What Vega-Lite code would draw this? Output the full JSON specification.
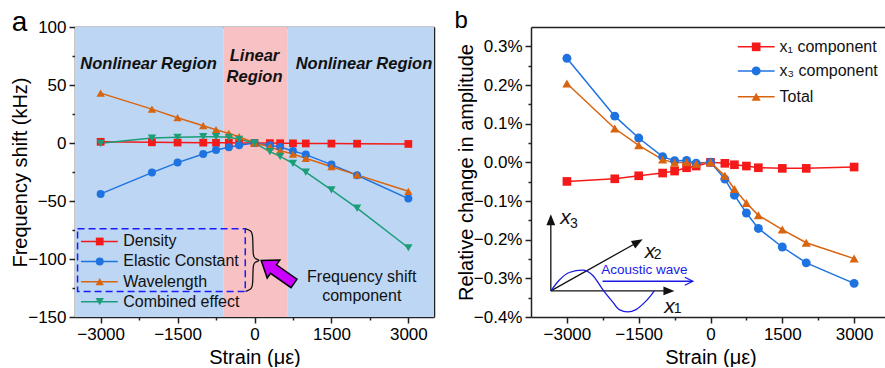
{
  "$schema": "https://vega.github.io/schema/vega-lite/v6.json",
  "padding": {"left": 10, "top": 8, "right": 0, "bottom": 0},
  "spacing": 20,
  "resolve": {
    "scale": {"color": "independent"},
    "legend": {"color": "independent"}
  },
  "config": {
    "font": "Liberation Sans",
    "view": {"stroke": null},
    "axis": {"labelFontSize": 17, "titleFontSize": 20, "titleFontWeight": "normal", "labelColor": "#000", "titleColor": "#000", "domainColor": "#222", "domainWidth": 1.5, "tickColor": "#222", "tickWidth": 1.5, "grid": false, "zindex": 1}
  },
  "datasets": {
    "a": [
      {"strain": -3000, "series": "Density", "value": 1},
      {"strain": -2000, "series": "Density", "value": 0.6},
      {"strain": -1500, "series": "Density", "value": 0.4},
      {"strain": -1000, "series": "Density", "value": 0.3},
      {"strain": -750, "series": "Density", "value": 0.2},
      {"strain": -500, "series": "Density", "value": 0.2},
      {"strain": -300, "series": "Density", "value": 0.1},
      {"strain": 0, "series": "Density", "value": 0},
      {"strain": 300, "series": "Density", "value": -0.1},
      {"strain": 500, "series": "Density", "value": -0.2},
      {"strain": 750, "series": "Density", "value": -0.3},
      {"strain": 1000, "series": "Density", "value": -0.4},
      {"strain": 1500, "series": "Density", "value": -0.5},
      {"strain": 2000, "series": "Density", "value": -0.6},
      {"strain": 3000, "series": "Density", "value": -0.8},
      {"strain": -3000, "series": "Elastic Constant", "value": -43.9},
      {"strain": -2000, "series": "Elastic Constant", "value": -25.5},
      {"strain": -1500, "series": "Elastic Constant", "value": -16.9},
      {"strain": -1000, "series": "Elastic Constant", "value": -9.5},
      {"strain": -750, "series": "Elastic Constant", "value": -6},
      {"strain": -500, "series": "Elastic Constant", "value": -3.7},
      {"strain": -300, "series": "Elastic Constant", "value": -2},
      {"strain": 0, "series": "Elastic Constant", "value": 0},
      {"strain": 300, "series": "Elastic Constant", "value": -2},
      {"strain": 500, "series": "Elastic Constant", "value": -3.4},
      {"strain": 750, "series": "Elastic Constant", "value": -6.9},
      {"strain": 1000, "series": "Elastic Constant", "value": -10},
      {"strain": 1500, "series": "Elastic Constant", "value": -18.6},
      {"strain": 2000, "series": "Elastic Constant", "value": -27.8},
      {"strain": 3000, "series": "Elastic Constant", "value": -47.9},
      {"strain": -3000, "series": "Wavelength", "value": 43},
      {"strain": -2000, "series": "Wavelength", "value": 29.2},
      {"strain": -1500, "series": "Wavelength", "value": 21.8},
      {"strain": -1000, "series": "Wavelength", "value": 14.9},
      {"strain": -750, "series": "Wavelength", "value": 11.5},
      {"strain": -500, "series": "Wavelength", "value": 8.3},
      {"strain": -300, "series": "Wavelength", "value": 5.4},
      {"strain": 0, "series": "Wavelength", "value": 0},
      {"strain": 300, "series": "Wavelength", "value": -3.2},
      {"strain": 500, "series": "Wavelength", "value": -6.6},
      {"strain": 750, "series": "Wavelength", "value": -9.5},
      {"strain": 1000, "series": "Wavelength", "value": -13.2},
      {"strain": 1500, "series": "Wavelength", "value": -20.4},
      {"strain": 2000, "series": "Wavelength", "value": -27.5},
      {"strain": 3000, "series": "Wavelength", "value": -41.6},
      {"strain": -3000, "series": "Combined effect", "value": -0.3},
      {"strain": -2000, "series": "Combined effect", "value": 4.3},
      {"strain": -1500, "series": "Combined effect", "value": 4.9},
      {"strain": -1000, "series": "Combined effect", "value": 5.4},
      {"strain": -750, "series": "Combined effect", "value": 5.4},
      {"strain": -500, "series": "Combined effect", "value": 4.9},
      {"strain": -300, "series": "Combined effect", "value": 3.2},
      {"strain": 0, "series": "Combined effect", "value": 0},
      {"strain": 300, "series": "Combined effect", "value": -7.5},
      {"strain": 500, "series": "Combined effect", "value": -11.5},
      {"strain": 750, "series": "Combined effect", "value": -17.5},
      {"strain": 1000, "series": "Combined effect", "value": -25.2},
      {"strain": 1500, "series": "Combined effect", "value": -40.4},
      {"strain": 2000, "series": "Combined effect", "value": -56.2},
      {"strain": 3000, "series": "Combined effect", "value": -90.3}
    ],
    "b": [
      {"strain": -3000, "series": "x₁ component", "value": -0.000494},
      {"strain": -2000, "series": "x₁ component", "value": -0.000426},
      {"strain": -1500, "series": "x₁ component", "value": -0.000348},
      {"strain": -1000, "series": "x₁ component", "value": -0.000277},
      {"strain": -750, "series": "x₁ component", "value": -0.000226},
      {"strain": -500, "series": "x₁ component", "value": -0.00014},
      {"strain": -300, "series": "x₁ component", "value": -0.000096},
      {"strain": 0, "series": "x₁ component", "value": 0},
      {"strain": 300, "series": "x₁ component", "value": -0.000026},
      {"strain": 500, "series": "x₁ component", "value": -0.000062},
      {"strain": 750, "series": "x₁ component", "value": -0.000096},
      {"strain": 1000, "series": "x₁ component", "value": -0.00014},
      {"strain": 1500, "series": "x₁ component", "value": -0.000156},
      {"strain": 2000, "series": "x₁ component", "value": -0.000156},
      {"strain": 3000, "series": "x₁ component", "value": -0.000122},
      {"strain": -3000, "series": "x₃ component", "value": 0.00269},
      {"strain": -2000, "series": "x₃ component", "value": 0.001195},
      {"strain": -1500, "series": "x₃ component", "value": 0.00063},
      {"strain": -1000, "series": "x₃ component", "value": 0.000146},
      {"strain": -750, "series": "x₃ component", "value": 0.00004},
      {"strain": -500, "series": "x₃ component", "value": 0.00005},
      {"strain": -300, "series": "x₃ component", "value": -0.00002},
      {"strain": 0, "series": "x₃ component", "value": 0},
      {"strain": 300, "series": "x₃ component", "value": -0.000434},
      {"strain": 500, "series": "x₃ component", "value": -0.00085},
      {"strain": 750, "series": "x₃ component", "value": -0.00131},
      {"strain": 1000, "series": "x₃ component", "value": -0.00171},
      {"strain": 1500, "series": "x₃ component", "value": -0.00219},
      {"strain": 2000, "series": "x₃ component", "value": -0.0026},
      {"strain": 3000, "series": "x₃ component", "value": -0.00313},
      {"strain": -3000, "series": "Total", "value": 0.00204},
      {"strain": -2000, "series": "Total", "value": 0.000874},
      {"strain": -1500, "series": "Total", "value": 0.00044},
      {"strain": -1000, "series": "Total", "value": 0.00007},
      {"strain": -750, "series": "Total", "value": -0.00001},
      {"strain": -500, "series": "Total", "value": 0},
      {"strain": -300, "series": "Total", "value": -0.00004},
      {"strain": 0, "series": "Total", "value": 0},
      {"strain": 300, "series": "Total", "value": -0.00035},
      {"strain": 500, "series": "Total", "value": -0.00069},
      {"strain": 750, "series": "Total", "value": -0.00105},
      {"strain": 1000, "series": "Total", "value": -0.00137},
      {"strain": 1500, "series": "Total", "value": -0.00174},
      {"strain": 2000, "series": "Total", "value": -0.00208},
      {"strain": 3000, "series": "Total", "value": -0.00249}
    ],
    "bg": [
      {"region": "nonlinear", "from": -3500, "to": -600},
      {"region": "linear", "from": -600, "to": 650},
      {"region": "nonlinear", "from": 650, "to": 3500}
    ],
    "regionLabels": [
      {"label": "Nonlinear Region", "x": -2064, "y": 68},
      {"label": "Linear", "x": 0, "y": 75},
      {"label": "Region", "x": 0, "y": 56.5},
      {"label": "Nonlinear Region", "x": 2134, "y": 68}
    ],
    "brace": [
      {"i": 0, "x": -176, "y": -74},
      {"i": 1, "x": -65, "y": -75.4},
      {"i": 2, "x": -31, "y": -79.1},
      {"i": 3, "x": -31, "y": -96.9},
      {"i": 4, "x": 0, "y": -99.8},
      {"i": 5, "x": 131, "y": -101.2},
      {"i": 6, "x": 0, "y": -102.6},
      {"i": 7, "x": -31, "y": -105.5},
      {"i": 8, "x": -31, "y": -122.8},
      {"i": 9, "x": -65, "y": -126.2},
      {"i": 10, "x": -176, "y": -127.9}
    ],
    "note": [
      {"t": "Frequency shift", "x": 2091, "y": -115.3},
      {"t": "component", "x": 2091, "y": -131.6}
    ],
    "sine": [
      {"x": -3336, "y": -0.003325},
      {"x": -3161, "y": -0.003049},
      {"x": -2951, "y": -0.002849},
      {"x": -2673, "y": -0.00279},
      {"x": -2463, "y": -0.002919},
      {"x": -2254, "y": -0.003283},
      {"x": -2045, "y": -0.00361},
      {"x": -1905, "y": -0.00381},
      {"x": -1731, "y": -0.00387},
      {"x": -1557, "y": -0.00381},
      {"x": -1381, "y": -0.003629},
      {"x": -1243, "y": -0.003439},
      {"x": -1172, "y": -0.003325}
    ],
    "insetAxes": [
      {"x": -3336, "y": -0.003325, "x2": -3336, "y2": -0.0016},
      {"x": -3336, "y": -0.003325, "x2": -900, "y2": -0.003325},
      {"x": -3336, "y": -0.003325, "x2": -1551, "y2": -0.002085}
    ],
    "insetX": [
      {"t": "x", "x": -3029, "y": -0.001447},
      {"t": "x", "x": -1264, "y": -0.002312},
      {"t": "x", "x": -858, "y": -0.00374}
    ],
    "insetSub": [
      {"t": "3", "x": -2853, "y": -0.001587},
      {"t": "2", "x": -1103, "y": -0.0024},
      {"t": "1", "x": -684, "y": -0.003785}
    ],
    "one": [{}]
  },
  "hconcat": [
    {
      "width": 359,
      "height": 290,
      "layer": [
        {
          "data": {"name": "bg"},
          "transform": [{"filter": "datum.region === 'nonlinear'"}],
          "mark": {"type": "rect", "color": "#bcd6f4"},
          "encoding": {
            "x": {"field": "from", "type": "quantitative", "scale": {"domain": [-3500, 3500], "nice": false, "zero": false}, "axis": null},
            "x2": {"field": "to"}
          }
        },
        {
          "data": {"name": "bg"},
          "transform": [{"filter": "datum.region === 'linear'"}],
          "mark": {"type": "rect", "color": "#f8c2c5"},
          "encoding": {
            "x": {"field": "from", "type": "quantitative", "axis": null},
            "x2": {"field": "to"}
          }
        },
        {
          "data": {"name": "a"},
          "mark": {"type": "line", "strokeWidth": 1.5},
          "encoding": {
            "x": {"field": "strain", "type": "quantitative", "axis": {"orient": "bottom", "values": [-3000, -1500, 0, 1500, 3000], "format": "d", "title": "Strain (με)", "tickSize": 6, "labelPadding": 3, "titlePadding": 5, "labelFlush": false}},
            "y": {"field": "value", "type": "quantitative", "scale": {"domain": [-150, 100], "nice": false, "zero": false}, "axis": {"orient": "left", "values": [-150, -100, -50, 0, 50, 100], "title": "Frequency shift (kHz)", "tickSize": 6, "labelPadding": 3, "titlePadding": -3}},
            "color": {"field": "series", "type": "nominal", "scale": {"domain": ["Density", "Elastic Constant", "Wavelength", "Combined effect"], "range": ["#f51a1a", "#1f73e0", "#d9640f", "#1b9e77"]}, "legend": null}
          }
        },
        {
          "data": {"name": "a"},
          "transform": [{"filter": "datum.series === 'Density'"}],
          "mark": {"type": "point", "shape": "square", "filled": true, "opacity": 1, "size": 60},
          "encoding": {
            "x": {"field": "strain", "type": "quantitative", "axis": {"orient": "bottom", "values": [-2250, -750, 750, 2250], "labels": false, "domain": false, "tickSize": 3, "title": null}},
            "y": {"field": "value", "type": "quantitative", "axis": {"orient": "left", "values": [-125, -75, -25, 25, 75], "labels": false, "domain": false, "tickSize": 3, "title": null}},
            "color": {"field": "series", "type": "nominal", "legend": null}
          }
        },
        {
          "data": {"name": "a"},
          "transform": [{"filter": "datum.series === 'Elastic Constant'"}],
          "mark": {"type": "point", "shape": "circle", "filled": true, "opacity": 1, "size": 64},
          "encoding": {
            "x": {"field": "strain", "type": "quantitative", "axis": {"orient": "top", "labels": false, "ticks": false, "title": null}},
            "y": {"field": "value", "type": "quantitative", "axis": {"orient": "right", "labels": false, "ticks": false, "title": null}},
            "color": {"field": "series", "type": "nominal", "legend": null}
          }
        },
        {
          "data": {"name": "a"},
          "transform": [{"filter": "datum.series === 'Wavelength'"}],
          "mark": {"type": "point", "shape": "triangle-up", "filled": true, "opacity": 1, "size": 70},
          "encoding": {
            "x": {"field": "strain", "type": "quantitative", "axis": null},
            "y": {"field": "value", "type": "quantitative", "axis": null},
            "color": {"field": "series", "type": "nominal", "legend": null}
          }
        },
        {
          "data": {"name": "a"},
          "transform": [{"filter": "datum.series === 'Combined effect'"}],
          "mark": {"type": "point", "shape": "triangle-down", "filled": true, "opacity": 1, "size": 70},
          "encoding": {
            "x": {"field": "strain", "type": "quantitative", "axis": null},
            "y": {"field": "value", "type": "quantitative", "axis": null},
            "color": {"field": "series", "type": "nominal", "legend": null}
          }
        },
        {"data": {"name": "one"}, "mark": {"type": "rule", "color": "#f51a1a", "strokeWidth": 1.5}, "encoding": {"x": {"datum": -3383, "type": "quantitative", "axis": null}, "x2": {"datum": -2666}, "y": {"datum": -84.9, "type": "quantitative", "axis": null}}},
        {"data": {"name": "one"}, "mark": {"type": "point", "shape": "square", "filled": true, "opacity": 1, "size": 60, "color": "#f51a1a"}, "encoding": {"x": {"datum": -3018, "type": "quantitative", "axis": null}, "y": {"datum": -84.9, "type": "quantitative", "axis": null}}},
        {"data": {"name": "one"}, "mark": {"type": "text", "text": "Density", "align": "left", "baseline": "middle", "fontSize": 16, "color": "#111"}, "encoding": {"x": {"datum": -2560, "type": "quantitative", "axis": null}, "y": {"datum": -84.9, "type": "quantitative", "axis": null}}},
        {"data": {"name": "one"}, "mark": {"type": "rule", "color": "#1f73e0", "strokeWidth": 1.5}, "encoding": {"x": {"datum": -3383, "type": "quantitative", "axis": null}, "x2": {"datum": -2666}, "y": {"datum": -102.1, "type": "quantitative", "axis": null}}},
        {"data": {"name": "one"}, "mark": {"type": "point", "shape": "circle", "filled": true, "opacity": 1, "size": 64, "color": "#1f73e0"}, "encoding": {"x": {"datum": -3018, "type": "quantitative", "axis": null}, "y": {"datum": -102.1, "type": "quantitative", "axis": null}}},
        {"data": {"name": "one"}, "mark": {"type": "text", "text": "Elastic Constant", "align": "left", "baseline": "middle", "fontSize": 16, "color": "#111"}, "encoding": {"x": {"datum": -2560, "type": "quantitative", "axis": null}, "y": {"datum": -102.1, "type": "quantitative", "axis": null}}},
        {"data": {"name": "one"}, "mark": {"type": "rule", "color": "#d9640f", "strokeWidth": 1.5}, "encoding": {"x": {"datum": -3383, "type": "quantitative", "axis": null}, "x2": {"datum": -2666}, "y": {"datum": -119.6, "type": "quantitative", "axis": null}}},
        {"data": {"name": "one"}, "mark": {"type": "point", "shape": "triangle-up", "filled": true, "opacity": 1, "size": 70, "color": "#d9640f"}, "encoding": {"x": {"datum": -3018, "type": "quantitative", "axis": null}, "y": {"datum": -119.6, "type": "quantitative", "axis": null}}},
        {"data": {"name": "one"}, "mark": {"type": "text", "text": "Wavelength", "align": "left", "baseline": "middle", "fontSize": 16, "color": "#111"}, "encoding": {"x": {"datum": -2560, "type": "quantitative", "axis": null}, "y": {"datum": -119.6, "type": "quantitative", "axis": null}}},
        {"data": {"name": "one"}, "mark": {"type": "rule", "color": "#1b9e77", "strokeWidth": 1.5}, "encoding": {"x": {"datum": -3383, "type": "quantitative", "axis": null}, "x2": {"datum": -2666}, "y": {"datum": -136.8, "type": "quantitative", "axis": null}}},
        {"data": {"name": "one"}, "mark": {"type": "point", "shape": "triangle-down", "filled": true, "opacity": 1, "size": 70, "color": "#1b9e77"}, "encoding": {"x": {"datum": -3018, "type": "quantitative", "axis": null}, "y": {"datum": -136.8, "type": "quantitative", "axis": null}}},
        {"data": {"name": "one"}, "mark": {"type": "text", "text": "Combined effect", "align": "left", "baseline": "middle", "fontSize": 16, "color": "#111"}, "encoding": {"x": {"datum": -2560, "type": "quantitative", "axis": null}, "y": {"datum": -136.8, "type": "quantitative", "axis": null}}},
        {
          "data": {"name": "regionLabels"},
          "mark": {"type": "text", "fontSize": 16.5, "fontWeight": "bold", "fontStyle": "italic", "color": "#111"},
          "encoding": {
            "x": {"field": "x", "type": "quantitative", "axis": null},
            "y": {"field": "y", "type": "quantitative", "axis": null},
            "text": {"field": "label"}
          }
        },
        {
          "data": {"name": "one"},
          "mark": {"type": "rect", "filled": false, "stroke": "#1a1aff", "strokeWidth": 1.5, "strokeDash": [7, 4]},
          "encoding": {
            "x": {"datum": -3450, "type": "quantitative", "axis": null},
            "x2": {"datum": -180},
            "y": {"datum": -74, "type": "quantitative", "axis": null},
            "y2": {"datum": -128}
          }
        },
        {
          "data": {"name": "brace"},
          "mark": {"type": "line", "color": "#111", "strokeWidth": 1.3, "interpolate": "basis"},
          "encoding": {
            "x": {"field": "x", "type": "quantitative", "axis": null},
            "y": {"field": "y", "type": "quantitative", "axis": null},
            "order": {"field": "i", "type": "quantitative"}
          }
        },
        {
          "data": {"name": "one"},
          "mark": {"type": "point", "shape": "M0,0L-0.75,-0.55L-0.75,-0.26L-2,-0.26L-2,0.26L-0.75,0.26L-0.75,0.55Z", "size": 1600, "angle": 215, "filled": true, "fill": "#cc00ff", "stroke": "#000", "strokeWidth": 1.5, "opacity": 1},
          "encoding": {
            "x": {"datum": 131, "type": "quantitative", "axis": null},
            "y": {"datum": -101.3, "type": "quantitative", "axis": null}
          }
        },
        {
          "data": {"name": "note"},
          "mark": {"type": "text", "fontSize": 16, "color": "#111"},
          "encoding": {
            "x": {"field": "x", "type": "quantitative", "axis": null},
            "y": {"field": "y", "type": "quantitative", "axis": null},
            "text": {"field": "t"}
          }
        },
        {
          "data": {"name": "one"},
          "mark": {"type": "text", "text": "a", "fontSize": 28, "baseline": "alphabetic", "color": "#000"},
          "encoding": {
            "x": {"datum": -4583, "type": "quantitative", "axis": null},
            "y": {"datum": 96.6, "type": "quantitative", "axis": null}
          }
        }
      ],
      "resolve": {"axis": {"x": "independent", "y": "independent"}}
    },
    {
      "width": 359,
      "height": 290,
      "layer": [
        {
          "data": {"name": "b"},
          "mark": {"type": "line", "strokeWidth": 1.5},
          "encoding": {
            "x": {"field": "strain", "type": "quantitative", "scale": {"domain": [-3750, 3750], "nice": false, "zero": false}, "axis": {"orient": "bottom", "values": [-3000, -1500, 0, 1500, 3000], "format": "d", "title": "Strain (με)", "tickSize": 6, "labelPadding": 3, "titlePadding": 5, "labelFlush": false}},
            "y": {"field": "value", "type": "quantitative", "scale": {"domain": [-0.004, 0.0035], "nice": false, "zero": false}, "axis": {"orient": "left", "values": [-0.004, -0.003, -0.002, -0.001, 0, 0.001, 0.002, 0.003], "format": ".1%", "title": "Relative change in amplitude", "tickSize": 6, "labelPadding": 3, "titlePadding": -3}},
            "color": {"field": "series", "type": "nominal", "scale": {"domain": ["x₁ component", "x₃ component", "Total"], "range": ["#f51a1a", "#1f73e0", "#d9640f"]}, "legend": null}
          }
        },
        {
          "data": {"name": "b"},
          "transform": [{"filter": "datum.series === 'x₁ component'"}],
          "mark": {"type": "point", "shape": "square", "filled": true, "opacity": 1, "size": 75},
          "encoding": {
            "x": {"field": "strain", "type": "quantitative", "axis": {"orient": "bottom", "values": [-2250, -750, 750, 2250], "labels": false, "domain": false, "tickSize": 3, "title": null}},
            "y": {"field": "value", "type": "quantitative", "axis": {"orient": "left", "values": [-0.0035, -0.0025, -0.0015, -0.0005, 0.0005, 0.0015, 0.0025], "labels": false, "domain": false, "tickSize": 3, "title": null}},
            "color": {"field": "series", "type": "nominal", "legend": null}
          }
        },
        {
          "data": {"name": "b"},
          "transform": [{"filter": "datum.series === 'x₃ component'"}],
          "mark": {"type": "point", "shape": "circle", "filled": true, "opacity": 1, "size": 80},
          "encoding": {
            "x": {"field": "strain", "type": "quantitative", "axis": {"orient": "top", "labels": false, "ticks": false, "title": null}},
            "y": {"field": "value", "type": "quantitative", "axis": {"orient": "right", "labels": false, "ticks": false, "title": null}},
            "color": {"field": "series", "type": "nominal", "legend": null}
          }
        },
        {
          "data": {"name": "b"},
          "transform": [{"filter": "datum.series === 'Total'"}],
          "mark": {"type": "point", "shape": "triangle-up", "filled": true, "opacity": 1, "size": 85},
          "encoding": {
            "x": {"field": "strain", "type": "quantitative", "axis": null},
            "y": {"field": "value", "type": "quantitative", "axis": null},
            "color": {"field": "series", "type": "nominal", "legend": null}
          }
        },
        {"data": {"name": "one"}, "mark": {"type": "rule", "color": "#f51a1a", "strokeWidth": 1.5}, "encoding": {"x": {"datum": 571, "type": "quantitative", "axis": null}, "x2": {"datum": 1340}, "y": {"datum": 0.002987, "type": "quantitative", "axis": null}}},
        {"data": {"name": "one"}, "mark": {"type": "point", "shape": "square", "filled": true, "opacity": 1, "size": 75, "color": "#f51a1a"}, "encoding": {"x": {"datum": 954, "type": "quantitative", "axis": null}, "y": {"datum": 0.002987, "type": "quantitative", "axis": null}}},
        {"data": {"name": "one"}, "mark": {"type": "text", "text": "x₁ component", "align": "left", "baseline": "middle", "fontSize": 16, "color": "#111"}, "encoding": {"x": {"datum": 1444, "type": "quantitative", "axis": null}, "y": {"datum": 0.002987, "type": "quantitative", "axis": null}}},
        {"data": {"name": "one"}, "mark": {"type": "rule", "color": "#1f73e0", "strokeWidth": 1.5}, "encoding": {"x": {"datum": 571, "type": "quantitative", "axis": null}, "x2": {"datum": 1340}, "y": {"datum": 0.002364, "type": "quantitative", "axis": null}}},
        {"data": {"name": "one"}, "mark": {"type": "point", "shape": "circle", "filled": true, "opacity": 1, "size": 80, "color": "#1f73e0"}, "encoding": {"x": {"datum": 954, "type": "quantitative", "axis": null}, "y": {"datum": 0.002364, "type": "quantitative", "axis": null}}},
        {"data": {"name": "one"}, "mark": {"type": "text", "text": "x₃ component", "align": "left", "baseline": "middle", "fontSize": 16, "color": "#111"}, "encoding": {"x": {"datum": 1444, "type": "quantitative", "axis": null}, "y": {"datum": 0.002364, "type": "quantitative", "axis": null}}},
        {"data": {"name": "one"}, "mark": {"type": "rule", "color": "#d9640f", "strokeWidth": 1.5}, "encoding": {"x": {"datum": 571, "type": "quantitative", "axis": null}, "x2": {"datum": 1340}, "y": {"datum": 0.001696, "type": "quantitative", "axis": null}}},
        {"data": {"name": "one"}, "mark": {"type": "point", "shape": "triangle-up", "filled": true, "opacity": 1, "size": 85, "color": "#d9640f"}, "encoding": {"x": {"datum": 954, "type": "quantitative", "axis": null}, "y": {"datum": 0.001696, "type": "quantitative", "axis": null}}},
        {"data": {"name": "one"}, "mark": {"type": "text", "text": "Total", "align": "left", "baseline": "middle", "fontSize": 16, "color": "#111"}, "encoding": {"x": {"datum": 1444, "type": "quantitative", "axis": null}, "y": {"datum": 0.001696, "type": "quantitative", "axis": null}}},
        {
          "data": {"name": "insetAxes"},
          "mark": {"type": "rule", "color": "#111", "strokeWidth": 1.3},
          "encoding": {
            "x": {"field": "x", "type": "quantitative", "axis": null},
            "y": {"field": "y", "type": "quantitative", "axis": null},
            "x2": {"field": "x2"},
            "y2": {"field": "y2"}
          }
        },
        {
          "data": {"name": "one"},
          "mark": {"type": "point", "shape": "M0,0L-2,-0.8L-2,0.8Z", "size": 121, "angle": -90, "filled": true, "color": "#111", "opacity": 1},
          "encoding": {
            "x": {"datum": -3336, "type": "quantitative", "axis": null},
            "y": {"datum": -0.001345, "type": "quantitative", "axis": null}
          }
        },
        {
          "data": {"name": "one"},
          "mark": {"type": "point", "shape": "M0,0L-2,-0.8L-2,0.8Z", "size": 121, "angle": 0, "filled": true, "color": "#111", "opacity": 1},
          "encoding": {
            "x": {"datum": -753, "type": "quantitative", "axis": null},
            "y": {"datum": -0.003325, "type": "quantitative", "axis": null}
          }
        },
        {
          "data": {"name": "one"},
          "mark": {"type": "point", "shape": "M0,0L-2,-0.8L-2,0.8Z", "size": 121, "angle": -29.2, "filled": true, "color": "#111", "opacity": 1},
          "encoding": {
            "x": {"datum": -1417, "type": "quantitative", "axis": null},
            "y": {"datum": -0.001992, "type": "quantitative", "axis": null}
          }
        },
        {
          "data": {"name": "sine"},
          "mark": {"type": "line", "color": "#1a1ae6", "strokeWidth": 1.3, "interpolate": "monotone"},
          "encoding": {
            "x": {"field": "x", "type": "quantitative", "axis": null},
            "y": {"field": "y", "type": "quantitative", "axis": null}
          }
        },
        {
          "data": {"name": "one"},
          "mark": {"type": "rule", "color": "#1a1ae6", "strokeWidth": 1.3},
          "encoding": {
            "x": {"datum": -2254, "type": "quantitative", "axis": null},
            "x2": {"datum": -380},
            "y": {"datum": -0.003075, "type": "quantitative", "axis": null}
          }
        },
        {
          "data": {"name": "one"},
          "mark": {"type": "point", "shape": "M-2,-1L0,0L-2,1", "size": 64, "filled": false, "color": "#1a1ae6", "strokeWidth": 1.3, "opacity": 1},
          "encoding": {
            "x": {"datum": -370, "type": "quantitative", "axis": null},
            "y": {"datum": -0.003075, "type": "quantitative", "axis": null}
          }
        },
        {
          "data": {"name": "one"},
          "mark": {"type": "text", "text": "Acoustic wave", "fontSize": 13.5, "color": "#1a1ae6"},
          "encoding": {
            "x": {"datum": -1381, "type": "quantitative", "axis": null},
            "y": {"datum": -0.00279, "type": "quantitative", "axis": null}
          }
        },
        {
          "data": {"name": "insetX"},
          "mark": {"type": "text", "fontSize": 21, "fontStyle": "italic", "color": "#111"},
          "encoding": {
            "x": {"field": "x", "type": "quantitative", "axis": null},
            "y": {"field": "y", "type": "quantitative", "axis": null},
            "text": {"field": "t"}
          }
        },
        {
          "data": {"name": "insetSub"},
          "mark": {"type": "text", "fontSize": 14, "color": "#111"},
          "encoding": {
            "x": {"field": "x", "type": "quantitative", "axis": null},
            "y": {"field": "y", "type": "quantitative", "axis": null},
            "text": {"field": "t"}
          }
        },
        {
          "data": {"name": "one"},
          "mark": {"type": "text", "text": "b", "fontSize": 24, "baseline": "alphabetic", "color": "#000"},
          "encoding": {
            "x": {"datum": -5210, "type": "quantitative", "axis": null},
            "y": {"datum": 0.00347, "type": "quantitative", "axis": null}
          }
        }
      ],
      "resolve": {"axis": {"x": "independent", "y": "independent"}}
    }
  ]
}
